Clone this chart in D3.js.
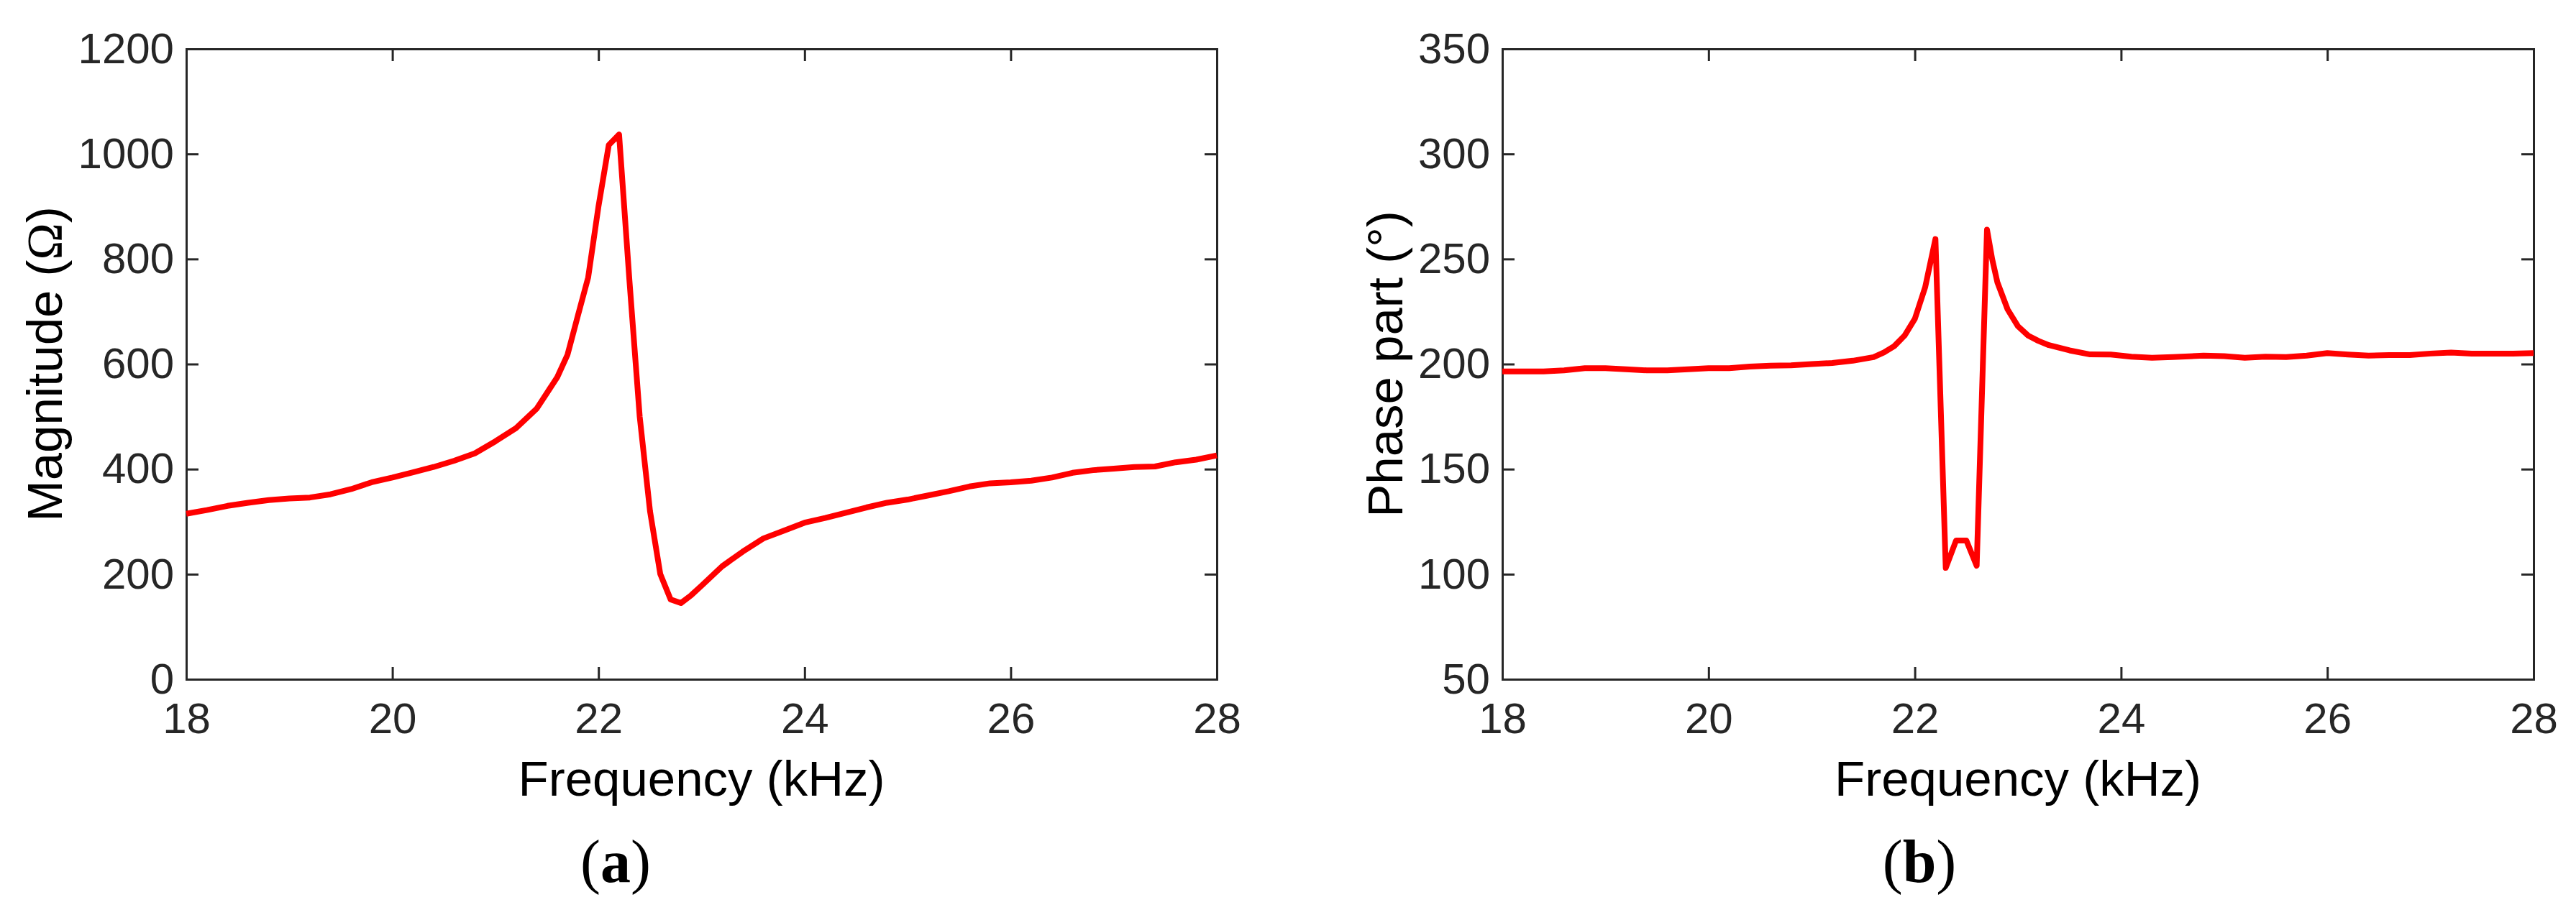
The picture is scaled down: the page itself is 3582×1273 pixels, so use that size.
<!DOCTYPE html>
<html>
<head>
<meta charset="utf-8">
<script src="https://cdn.jsdelivr.net/npm/d3@7"></script>
<style>
  html, body { margin: 0; padding: 0; background: #fff; }
  svg { display: block; }
</style>
</head>
<body>
<svg id="chart"></svg>
<script>
// frequency ticks shared by both panels (kHz)
const freqTicks = [18, 20, 22, 24, 26, 28];

// (a) impedance magnitude
const freqA = [18.0, 18.2, 18.4, 18.6, 18.8, 19.0, 19.2, 19.4, 19.6, 19.8,
  20.0, 20.2, 20.4, 20.6, 20.8, 21.0, 21.2, 21.4, 21.5, 21.6,
  21.7, 21.8, 21.9, 22.0, 22.1, 22.2, 22.3, 22.4, 22.5, 22.6,
  22.7, 22.8, 22.9, 23.0, 23.2, 23.4, 23.6, 23.8, 24.0, 24.2,
  24.4, 24.6, 24.8, 25.0, 25.2, 25.4, 25.6, 25.8, 26.0, 26.2,
  26.4, 26.6, 26.8, 27.0, 27.2, 27.4, 27.6, 27.8, 28.0];
const magnitude = [315, 322, 330, 336, 341, 344, 346, 352, 362, 375,
  384, 394, 404, 416, 430, 453, 478, 515, 545, 575,
  618, 692, 765, 900, 1017, 1037, 760, 500, 320, 200,
  152, 145, 160, 178, 215, 243, 268, 283, 298, 307,
  317, 327, 336, 342, 350, 358, 367, 373, 375, 378,
  384, 393, 398, 401, 404, 405, 413, 418, 426];
const magTicks = [0, 200, 400, 600, 800, 1000, 1200];

// (b) phase
const freqB = [18.0, 18.2, 18.4, 18.6, 18.8, 19.0, 19.2, 19.4, 19.6, 19.8,
  20.0, 20.2, 20.4, 20.6, 20.8, 21.0, 21.2, 21.4, 21.6, 21.7,
  21.8, 21.9, 22.0, 22.1, 22.2, 22.3, 22.4, 22.5, 22.6, 22.7,
  22.75, 22.8, 22.9, 23.0, 23.1, 23.2, 23.3, 23.5, 23.7, 23.9,
  24.1, 24.3, 24.5, 24.8, 25.0, 25.2, 25.4, 25.6, 25.8, 26.0,
  26.2, 26.4, 26.6, 26.8, 27.0, 27.2, 27.4, 27.6, 27.8, 28.0];
const phase = [196.5, 196.5, 196.5, 197, 198, 198, 197.5, 197, 197, 197.5,
  198, 198, 198.8, 199.2, 199.4, 200, 200.5, 201.6, 203.3, 205.5,
  208.5, 213.5, 221.5, 236.5, 259.5, 103, 116, 116, 104, 264,
  250, 239, 226, 218, 213.5, 211, 209, 206.5, 204.6, 204.5,
  203.5, 203, 203.3, 204, 203.8, 203, 203.5, 203.3, 204, 205.2,
  204.5, 204, 204.3, 204.3, 205, 205.5, 205, 205, 205, 205.2];
const phaseTicks = [50, 100, 150, 200, 250, 300, 350];

const W = 3582, H = 1273;
const svg = d3.select('#chart').attr('width', W).attr('height', H);

const sans = '"Liberation Sans", Arial, Helvetica, sans-serif';
const serif = '"Liberation Serif", "Times New Roman", serif';
const axisColor = '#262626';

function drawPanel(p) {
    const top = 68, bottom = 945;
    const x = d3.scaleLinear().domain([18, 28]).range([p.left, p.right]);
    const y = d3.scaleLinear().domain(p.yDomain).range([bottom, top]);

    const g = svg.append('g');

    const bottomAxis = g.append('g')
        .attr('transform', `translate(0,${bottom})`)
        .call(d3.axisBottom(x).tickValues(freqTicks).tickFormat(d3.format('d'))
            .tickSizeInner(-17).tickSizeOuter(0).tickPadding(32));
    const topAxis = g.append('g')
        .attr('transform', `translate(0,${top})`)
        .call(d3.axisTop(x).tickValues(freqTicks).tickFormat('')
            .tickSizeInner(-17).tickSizeOuter(0));
    const leftAxis = g.append('g')
        .attr('transform', `translate(${p.left},0)`)
        .call(d3.axisLeft(y).tickValues(p.yTicks).tickFormat(d3.format('d'))
            .tickSizeInner(-17).tickSizeOuter(0).tickPadding(17));
    const rightAxis = g.append('g')
        .attr('transform', `translate(${p.right},0)`)
        .call(d3.axisRight(y).tickValues(p.yTicks).tickFormat('')
            .tickSizeInner(-17).tickSizeOuter(0));

    [bottomAxis, topAxis, leftAxis, rightAxis].forEach(a => {
        a.select('.domain').attr('stroke', axisColor).attr('stroke-width', 3)
            .attr('stroke-linecap', 'square');
        a.selectAll('.tick line').attr('stroke', axisColor).attr('stroke-width', 3);
        a.selectAll('.tick text')
            .attr('fill', axisColor)
            .style('font-family', sans)
            .style('font-size', '60px');
    });

    const line = d3.line()
        .x((d, i) => x(p.xs[i]))
        .y(d => y(d));

    g.append('path')
        .datum(p.ys)
        .attr('fill', 'none')
        .attr('stroke', '#ff0000')
        .attr('stroke-width', 8)
        .attr('stroke-linejoin', 'round')
        .attr('d', line);

    // axis titles
    g.append('text')
        .attr('x', (p.left + p.right) / 2)
        .attr('y', 1107)
        .attr('text-anchor', 'middle')
        .style('font-family', sans)
        .style('font-size', '69px')
        .attr('fill', '#000')
        .text('Frequency (kHz)');

    const yt = g.append('text')
        .attr('transform', `translate(${p.yTitleX},${(top + bottom) / 2}) rotate(-90)`)
        .attr('text-anchor', 'middle')
        .style('font-family', sans)
        .style('font-size', '69px')
        .attr('fill', '#000');
    yt.append('tspan').text(p.yTitle[0]);
    yt.append('tspan').style('font-family', p.yTitle[2] ? serif : sans).text(p.yTitle[1]);
    yt.append('tspan').text(')');

    // sub-figure caption
    const cap = g.append('text')
        .attr('x', p.capX)
        .attr('y', 1227)
        .attr('text-anchor', 'middle')
        .style('font-family', serif)
        .style('font-size', '84px')
        .attr('fill', '#000');
    cap.append('tspan').text('(');
    cap.append('tspan').attr('font-weight', 'bold').text(p.caption);
    cap.append('tspan').text(')');
}

drawPanel({
    left: 259, right: 1692,
    xs: freqA, ys: magnitude,
    yDomain: [0, 1200], yTicks: magTicks,
    yTitle: ['Magnitude (', 'Ω', true], yTitleX: 86,
    capX: 856, caption: 'a'
});

drawPanel({
    left: 2089, right: 3523,
    xs: freqB, ys: phase,
    yDomain: [50, 350], yTicks: phaseTicks,
    yTitle: ['Phase part (', '°', false], yTitleX: 1950,
    capX: 2669, caption: 'b'
});
</script>
</body>
</html>
